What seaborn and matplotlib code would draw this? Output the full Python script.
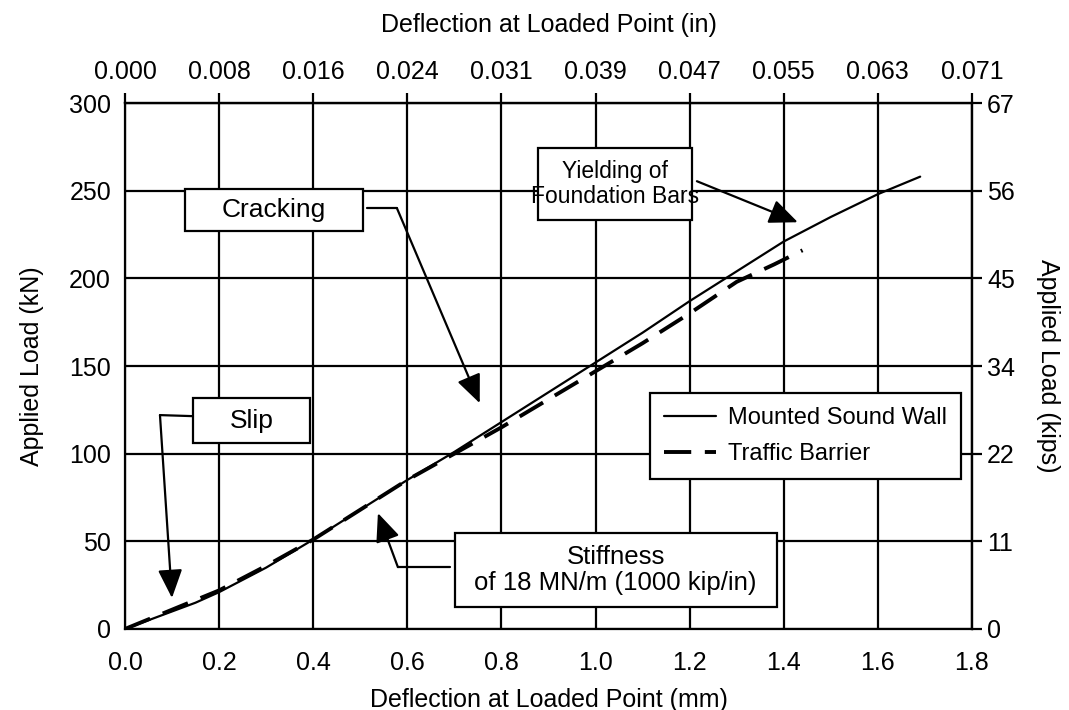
import matplotlib
matplotlib.use("Agg")
import matplotlib.pyplot as plt
from matplotlib.patches import Rectangle
import seaborn as sns
import pandas as pd

# Load-deflection readings (deflection in mm, load in kN)
sound_wall_defl = [0, 0.05, 0.1, 0.15, 0.2, 0.3, 0.4, 0.5, 0.6, 0.7, 0.8, 0.9,
                   1.0, 1.1, 1.2, 1.3, 1.4, 1.5, 1.6, 1.69]
sound_wall_load = [0, 5, 10, 15, 21, 35, 51, 68, 85, 101, 118, 135,
                   152, 169, 187, 204, 221, 235, 248, 258]

barrier_defl = [0, 0.1, 0.2, 0.3, 0.4, 0.5, 0.6, 0.7, 0.8, 0.9, 1.0, 1.1,
                1.2, 1.3, 1.38, 1.44]
barrier_load = [0, 11, 22, 36, 51, 68, 85, 100, 115, 131, 147, 163,
                180, 198, 208, 216]

mm_ticks = [0.0, 0.2, 0.4, 0.6, 0.8, 1.0, 1.2, 1.4, 1.6, 1.8]
in_labels = ["0.000", "0.008", "0.016", "0.024", "0.031", "0.039",
             "0.047", "0.055", "0.063", "0.071"]
kn_ticks = [0, 50, 100, 150, 200, 250, 300]
kip_labels = ["0", "11", "22", "34", "45", "56", "67"]

sns.set_theme(style="white")
plt.rcParams["font.family"] = ["Liberation Sans", "DejaVu Sans"]
plt.rcParams.update({
    "axes.linewidth": 1.6,
    "text.color": "black",
    "axes.labelcolor": "black",
    "xtick.color": "black",
    "ytick.color": "black",
})

df_wall = pd.DataFrame({"defl": sound_wall_defl, "load": sound_wall_load})
df_barrier = pd.DataFrame({"defl": barrier_defl, "load": barrier_load})

fig = plt.figure(figsize=(10.69, 7.10), dpi=100)
ax = fig.add_axes([0.1169, 0.1141, 0.7923, 0.7408])

sns.lineplot(data=df_wall, x="defl", y="load", ax=ax, color="black",
             lw=1.6, estimator=None, label="Mounted Sound Wall", zorder=3)
sns.lineplot(data=df_barrier, x="defl", y="load", ax=ax, color="black",
             lw=2.8, estimator=None, label="Traffic Barrier", zorder=3,
             linestyle=(0, (7, 3.5)))

ax.set_xlim(0, 1.8)
ax.set_ylim(0, 300)
ax.set_xticks(mm_ticks)
ax.set_xticklabels([f"{t:.1f}" for t in mm_ticks])
ax.set_yticks(kn_ticks)
ax.grid(True, color="black", lw=1.6)
ax.set_axisbelow(True)
for s in ax.spines.values():
    s.set_color("black")
    s.set_linewidth(1.6)

tick_kw = dict(direction="out", length=7, width=1.6, colors="black", labelsize=18)
ax.tick_params(axis="x", pad=9, **tick_kw)
ax.tick_params(axis="y", pad=3, **tick_kw)
ax.set_xlabel("Deflection at Loaded Point (mm)", fontsize=18, labelpad=9,
              color="black")
ax.set_ylabel("Applied Load (kN)", fontsize=18, labelpad=18, color="black")

top = ax.secondary_xaxis("top")
top.set_xticks(mm_ticks, in_labels)
top.tick_params(axis="x", pad=7, **tick_kw)
top.set_xlabel("Deflection at Loaded Point (in)", fontsize=18, labelpad=20,
               color="black")

right = ax.secondary_yaxis("right")
right.set_yticks(kn_ticks, kip_labels)
right.tick_params(axis="y", pad=4, **tick_kw)
right.set_ylabel("Applied Load (kips)", fontsize=18, rotation=270, labelpad=32,
                 color="black")

leg = ax.legend(loc="upper left", bbox_to_anchor=(0.62, 0.449), fontsize=17,
                frameon=True, fancybox=False, framealpha=1, edgecolor="black",
                borderaxespad=0, handlelength=2.2, handletextpad=0.5,
                borderpad=0.6, labelspacing=0.6)
leg.get_frame().set_linewidth(1.6)
for t in leg.get_texts():
    t.set_color("black")


# annotation boxes: (x0, y0, x1, y1) in data units
def box(x0, y0, x1, y1, text, size=19):
    ax.add_patch(Rectangle((x0, y0), x1 - x0, y1 - y0, facecolor="white",
                           edgecolor="black", lw=1.6, zorder=5))
    ax.text((x0 + x1) / 2, (y0 + y1) / 2, text, ha="center", va="center",
            fontsize=size, zorder=6, linespacing=1.1, color="black")


def leader(points, tip):
    xs = [p[0] for p in points]
    ys = [p[1] for p in points]
    ax.plot(xs, ys, color="black", lw=1.6, zorder=5)
    ax.annotate("", xy=tip, xytext=points[-1], zorder=5,
                arrowprops=dict(arrowstyle="-|>,head_length=0.7,head_width=0.3",
                                mutation_scale=25, color="black", lw=1.6,
                                shrinkA=0, shrinkB=0))


box(0.1275, 226.9, 0.5057, 250.8, "Cracking")
leader([(0.514, 240.0), (0.578, 240.0)], (0.754, 128.8))

box(0.878, 233.2, 1.205, 274.2, "Yielding of\nFoundation Bars", size=16.5)
leader([(1.2155, 255.4)], (1.43, 232.0))

box(0.1445, 106.0, 0.393, 131.7, "Slip")
leader([(0.1445, 121.4), (0.0744, 122.0)], (0.0999, 17.7))

box(0.701, 12.5, 1.385, 54.7, "Stiffness\nof 18 MN/m (1000 kip/in)", size=18.5)
leader([(0.691, 35.3), (0.580, 35.3)], (0.5376, 66.1))

fig.savefig("out.png", dpi=100, facecolor="white")
